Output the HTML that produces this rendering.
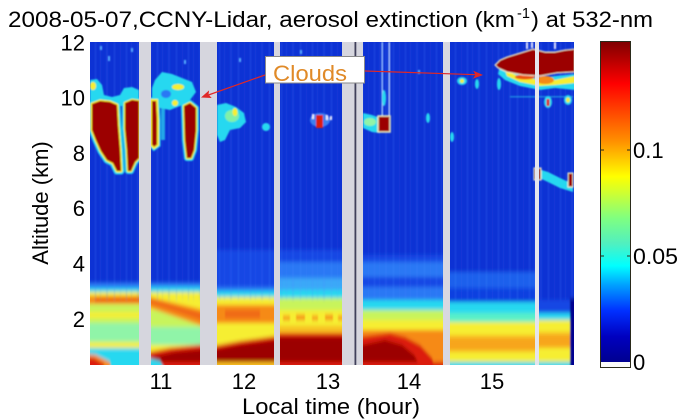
<!DOCTYPE html>
<html><head><meta charset="utf-8"><style>
html,body{margin:0;padding:0;background:#fff;width:700px;height:420px;overflow:hidden}
svg{display:block}
text{font-family:"Liberation Sans",Arial,sans-serif;fill:#000}
</style></head><body>
<svg width="700" height="420" viewBox="0 0 700 420" xmlns="http://www.w3.org/2000/svg">
<defs>
<clipPath id="pc"><rect x="90" y="42" width="484" height="323"/></clipPath>
<filter id="bl" x="-2%" y="-3%" width="104%" height="106%"><feGaussianBlur stdDeviation="0.8 2.2"/></filter>
<filter id="bl2" x="-5%" y="-5%" width="110%" height="110%"><feGaussianBlur stdDeviation="0.7"/></filter>
<pattern id="st" width="31" height="420" patternUnits="userSpaceOnUse">
 <rect x="2" y="0" width="1" height="420" fill="#4a88ff" opacity=".35"/>
 <rect x="7" y="0" width="1" height="420" fill="#4a88ff" opacity=".2"/>
 <rect x="13" y="0" width="2" height="420" fill="#4a88ff" opacity=".22"/>
 <rect x="21" y="0" width="1" height="420" fill="#5a98ff" opacity=".35"/>
 <rect x="27" y="0" width="1" height="420" fill="#4a88ff" opacity=".15"/>
</pattern>
<linearGradient id="cb" x1="0" y1="42" x2="0" y2="362" gradientUnits="userSpaceOnUse">
 <stop offset="0" stop-color="#800000"/>
 <stop offset="0.13" stop-color="#ff0000"/>
 <stop offset="0.25" stop-color="#ff6000"/>
 <stop offset="0.31" stop-color="#ff9000"/>
 <stop offset="0.42" stop-color="#ffff00"/>
 <stop offset="0.47" stop-color="#d0ff30"/>
 <stop offset="0.55" stop-color="#80ff80"/>
 <stop offset="0.63" stop-color="#50f0c0"/>
 <stop offset="0.70" stop-color="#00ffff"/>
 <stop offset="0.76" stop-color="#00a0ff"/>
 <stop offset="0.84" stop-color="#0030ff"/>
 <stop offset="0.92" stop-color="#0000c0"/>
 <stop offset="1" stop-color="#000090"/>
</linearGradient>
</defs>

<!-- Title -->
<text x="8" y="27" font-size="22" textLength="507" lengthAdjust="spacingAndGlyphs">2008-05-07,CCNY-Lidar, aerosol extinction (km</text>
<text x="517" y="18" font-size="15" textLength="13" lengthAdjust="spacingAndGlyphs">-1</text>
<text x="531" y="27" font-size="22" textLength="122" lengthAdjust="spacingAndGlyphs">) at 532-nm</text>

<!-- Data -->
<g clip-path="url(#pc)">
<g filter="url(#bl)">
 <!-- Seg A -->
 <rect x="80" y="30" width="65" height="253" fill="#0b30d4"/>
 <rect x="80" y="283" width="65" height="5" fill="#2a78f4"/>
 <rect x="80" y="288" width="65" height="4" fill="#28d8f0"/>
 <rect x="80" y="292" width="65" height="4" fill="#f6ee30"/>
 <rect x="80" y="296" width="65" height="8" fill="#f68a18"/>
 <rect x="95" y="298" width="50" height="4" fill="#ec5410" opacity=".8"/>
 <rect x="80" y="304" width="65" height="8" fill="#c8f45c"/>
 <rect x="80" y="312" width="65" height="6" fill="#f6ee30"/>
 <rect x="80" y="318" width="65" height="5" fill="#c8f45c"/>
 <rect x="80" y="323" width="65" height="19" fill="#90f4a8"/>
 <rect x="80" y="342" width="65" height="6" fill="#f6ee30"/>
 <rect x="80" y="348" width="65" height="27" fill="#28d8f0"/>
 <path d="M80,353 L96,355 L110,362 L112,375 L80,375 Z" fill="#f68a18"/>
 <path d="M80,356 L94,358 L104,364 L104,375 L80,375 Z" fill="#dc1a08"/>
 <!-- Seg B -->
 <rect x="145" y="30" width="63" height="253" fill="#0b30d4"/>
 <rect x="145" y="283" width="63" height="4" fill="#2a78f4"/>
 <rect x="145" y="287" width="63" height="5" fill="#28d8f0"/>
 <rect x="145" y="292" width="63" height="18" fill="#f6ee30"/>
 <rect x="145" y="310" width="63" height="17" fill="#c8f45c"/>
 <rect x="145" y="327" width="63" height="18" fill="#90f4a8"/>
 <rect x="145" y="345" width="63" height="10" fill="#f6ee30"/>
 <path d="M145,296 L208,311 L208,328 L145,306 Z" fill="#f68a18"/>
 <path d="M150,299 L208,315 L208,322 L150,303 Z" fill="#ec5410" opacity=".7"/>
 <path d="M145,353 L170,348 L208,344 L208,375 L145,375 Z" fill="#dc1a08"/>
 <path d="M152,357 L175,352 L208,349 L208,362 L152,362 Z" fill="#9c0000"/>
 <path d="M145,357 L160,361 L168,375 L145,375 Z" fill="#28d8f0"/>
 <!-- Seg C -->
 <rect x="208" y="30" width="69" height="220" fill="#0b30d4"/>
 <rect x="208" y="250" width="69" height="37" fill="#1446e4"/>
 <rect x="208" y="287" width="69" height="4" fill="#2a78f4"/>
 <rect x="208" y="291" width="69" height="6" fill="#28d8f0"/>
 <rect x="208" y="297" width="69" height="8" fill="#f6ee30"/>
 <rect x="208" y="305" width="69" height="18" fill="#f68a18"/>
 <rect x="225" y="310" width="35" height="8" fill="#ec5410" opacity=".6"/>
 <rect x="208" y="323" width="69" height="27" fill="#f6ee30"/>
 <path d="M208,347 L240,341 L277,336 L277,375 L208,375 Z" fill="#dc1a08"/>
 <path d="M208,351 L240,345 L277,340 L277,362 L208,362 Z" fill="#9c0000"/>
 <rect x="208" y="362" width="69" height="13" fill="#f8c020"/>
 <!-- Seg D -->
 <rect x="277" y="30" width="75" height="220" fill="#0b30d4"/>
 <rect x="277" y="250" width="75" height="12" fill="#1446e4"/>
 <rect x="277" y="262" width="75" height="16" fill="#2a78f4"/>
 <rect x="277" y="278" width="75" height="12" fill="#3aa8f8"/>
 <rect x="277" y="290" width="75" height="8" fill="#28d8f0"/>
 <rect x="277" y="298" width="75" height="12" fill="#c8f45c"/>
 <rect x="277" y="310" width="75" height="16" fill="#f6ee30"/>
 <rect x="283" y="316" width="7" height="4" fill="#f68a18"/>
 <rect x="296" y="315" width="9" height="5" fill="#f68a18"/>
 <rect x="312" y="316" width="6" height="4" fill="#f68a18"/>
 <rect x="325" y="315" width="8" height="5" fill="#f68a18"/>
 <rect x="338" y="316" width="5" height="4" fill="#f68a18"/>
 <rect x="277" y="326" width="75" height="7" fill="#f8c020"/>
 <rect x="277" y="333" width="75" height="4" fill="#dc1a08"/>
 <rect x="277" y="337" width="75" height="25" fill="#9c0000"/>
 <rect x="277" y="362" width="75" height="13" fill="#dc1a08"/>
 <!-- Seg E -->
 <rect x="352" y="30" width="95" height="225" fill="#0b30d4"/>
 <rect x="352" y="255" width="95" height="7" fill="#1446e4"/>
 <rect x="352" y="262" width="95" height="15" fill="#2a78f4"/>
 <rect x="352" y="277" width="95" height="10" fill="#1446e4"/>
 <rect x="352" y="287" width="95" height="13" fill="#2a78f4"/>
 <rect x="352" y="300" width="95" height="10" fill="#28d8f0"/>
 <rect x="352" y="310" width="95" height="10" fill="#c8f45c"/>
 <rect x="352" y="320" width="95" height="10" fill="#f6ee30"/>
 <rect x="352" y="330" width="95" height="45" fill="#f68a18"/>
 <path d="M352,338 L390,333 L405,337 L420,345 L432,358 L438,375 L352,375 Z" fill="#dc1a08"/>
 <path d="M358,346 L385,340 L402,345 L414,355 L418,362 L358,362 Z" fill="#9c0000"/>
 <rect x="352" y="362" width="95" height="13" fill="#dc1a08"/>
 <!-- Seg F -->
 <rect x="447" y="30" width="90" height="242" fill="#0b30d4"/>
 <rect x="447" y="272" width="90" height="16" fill="#1c60ec"/>
 <rect x="447" y="288" width="90" height="14" fill="#1040e0"/>
 <rect x="447" y="302" width="90" height="11" fill="#28d8f0"/>
 <rect x="447" y="313" width="90" height="9" fill="#58f0c8"/>
 <rect x="447" y="322" width="90" height="13" fill="#f6ee30"/>
 <rect x="447" y="335" width="90" height="17" fill="#f8c020"/>
 <rect x="447" y="338" width="90" height="12" fill="#f68a18" opacity=".5"/>
 <rect x="447" y="352" width="90" height="10" fill="#f6ee30"/>
 <rect x="447" y="362" width="90" height="13" fill="#28d8f0"/>
 <!-- Seg G -->
 <rect x="537" y="30" width="48" height="270" fill="#0b30d4"/>
 <rect x="537" y="300" width="48" height="13" fill="#1446e4"/>
 <rect x="537" y="313" width="48" height="7" fill="#28d8f0"/>
 <rect x="537" y="320" width="48" height="12" fill="#f6ee30"/>
 <rect x="537" y="332" width="48" height="16" fill="#f8c020"/>
 <rect x="537" y="335" width="48" height="12" fill="#f68a18" opacity=".5"/>
 <rect x="537" y="348" width="48" height="14" fill="#f6ee30"/>
 <rect x="537" y="362" width="48" height="13" fill="#28d8f0"/>
 <rect x="570" y="298" width="15" height="77" fill="#000090"/>
 <!-- streaks -->
 <rect x="90" y="42" width="484" height="258" fill="url(#st)" opacity=".7"/>
</g>

<g filter="url(#bl2)">
 <!-- specks -->
 <rect x="100" y="46" width="2" height="4" fill="#5ab0ff"/>
 <rect x="108" y="56" width="2" height="5" fill="#5ab0ff"/>
 <rect x="131" y="48" width="2" height="4" fill="#5ab0ff"/>
 <rect x="184" y="60" width="2" height="4" fill="#5ab0ff"/>
 <rect x="239" y="58" width="2" height="4" fill="#5ab0ff"/>
 <rect x="300" y="50" width="2" height="4" fill="#5ab0ff"/>
 <rect x="418" y="70" width="2" height="4" fill="#5ab0ff"/>
 <!-- Seg A clouds -->
 <path d="M90,80 L97,79 L102,85 L104,95 L112,97 L120,95 L124,88 L132,87 L139,90 L139,106 L90,106 Z" fill="#28d8f0"/>
 <ellipse cx="93" cy="86" rx="3" ry="4" fill="#f6ee30"/>
 <path d="M92,104 L100,101 L110,102 L117,105 L118,125 L120,150 L121,171 L117,171 L113,163 L107,160 L101,151 L96,140 L92,130 Z" fill="#9c0000" stroke="#28d8f0" stroke-width="7" stroke-linejoin="round"/>
 <path d="M92,104 L100,101 L110,102 L117,105 L118,125 L120,150 L121,171 L117,171 L113,163 L107,160 L101,151 L96,140 L92,130 Z" fill="#9c0000" stroke="#f6ee30" stroke-width="3" stroke-linejoin="round"/>
 <path d="M92,104 L100,101 L110,102 L117,105 L118,125 L120,150 L121,171 L117,171 L113,163 L107,160 L101,151 L96,140 L92,130 Z" fill="#9c0000"/>
 <path d="M125,103 L132,100 L139,101 L139,158 L135,162 L131,171 L128,171 L127,150 L125,128 Z" fill="#9c0000" stroke="#28d8f0" stroke-width="6" stroke-linejoin="round"/>
 <path d="M125,103 L132,100 L139,101 L139,158 L135,162 L131,171 L128,171 L127,150 L125,128 Z" fill="#9c0000" stroke="#f6ee30" stroke-width="2.5" stroke-linejoin="round"/>
 <path d="M125,103 L132,100 L139,101 L139,158 L135,162 L131,171 L128,171 L127,150 L125,128 Z" fill="#9c0000"/>
 <!-- Seg B clouds -->
 <path d="M155,80 L162,72 L172,74 L182,78 L192,82 L196,92 L190,100 L180,106 L170,110 L160,108 L152,100 L152,88 Z" fill="#28d8f0"/>
 <ellipse cx="166" cy="94" rx="5" ry="4" fill="#2a78f4"/>
 <ellipse cx="178" cy="87" rx="6" ry="3" fill="#f6ee30"/>
 <circle cx="175" cy="103" r="3" fill="#f6ee30"/>
 <rect x="161" y="108" width="4" height="32" fill="#28d8f0" opacity=".7"/>
 <path d="M151,100 L157,100 L158,120 L158,145 L154,148 L151,145 Z" fill="#9c0000" stroke="#28d8f0" stroke-width="5"/>
 <path d="M151,100 L157,100 L158,120 L158,145 L154,148 L151,145 Z" fill="#9c0000" stroke="#f6ee30" stroke-width="2"/>
 <path d="M184,106 L190,103 L196,108 L196,130 L194,150 L191,158 L187,158 L185,140 Z" fill="#9c0000" stroke="#28d8f0" stroke-width="6" stroke-linejoin="round"/>
 <path d="M184,106 L190,103 L196,108 L196,130 L194,150 L191,158 L187,158 L185,140 Z" fill="#9c0000" stroke="#f6ee30" stroke-width="2.5" stroke-linejoin="round"/>
 <path d="M184,106 L190,103 L196,108 L196,130 L194,150 L191,158 L187,158 L185,140 Z" fill="#9c0000"/>
 <!-- Seg C -->
 <path d="M217,105 L226,103 L236,107 L244,113 L246,122 L240,128 L230,130 L225,140 L220,142 L217,135 Z" fill="#28d8f0"/>
 <ellipse cx="232" cy="116" rx="7" ry="6" fill="#80f0a8"/>
 <ellipse cx="235" cy="112" rx="2.5" ry="4" fill="#f6ee30"/>
 <ellipse cx="266" cy="127" rx="4" ry="4" fill="#28d8f0"/>
 <!-- Seg D -->
 <ellipse cx="320" cy="120" rx="10" ry="7" fill="#3a80f0"/>
 <rect x="316" y="115" width="7" height="13" fill="#dc1a08"/>
 <rect x="312" y="114" width="2" height="5" fill="#f0f0ff"/>
 <rect x="326" y="115" width="2" height="5" fill="#f0f0ff"/>
 <rect x="330" y="116" width="2" height="4" fill="#f0f0ff"/>
 <!-- Seg E -->
 <rect x="381.5" y="42" width="1.5" height="84" fill="#a0c8ff"/>
 <rect x="388.5" y="42" width="1.5" height="84" fill="#c0d8ff"/>
 <ellipse cx="384" cy="98" rx="2" ry="8" fill="#28d8f0"/>
 <path d="M363,113 L372,115 L380,118 L380,133 L372,132 L363,128 Z" fill="#28d8f0"/>
 <ellipse cx="370" cy="122" rx="6" ry="4" fill="#90f4a8"/>
 <rect x="378" y="116" width="12" height="16" fill="#9c0000" stroke="#f0f0c0" stroke-width="1.5"/>
 <ellipse cx="428" cy="118" rx="2" ry="5" fill="#28d8f0"/>
 <!-- Seg F/G upper cloud -->
 <path d="M500,66 L510,72 L525,76 L540,78 L555,76 L575,74 L575,90 L555,88 L540,90 L520,86 L505,80 L498,74 Z" fill="#28d8f0"/>
 <path d="M505,70 L520,77 L540,80 L555,80 L575,76 L575,83 L555,85 L540,86 L520,82 L507,76 Z" fill="#f6ee30"/>
 <ellipse cx="545" cy="80" rx="9" ry="4" fill="#f68a18"/>
 <ellipse cx="525" cy="77" rx="10" ry="2.5" fill="#ec5410"/>
 <path d="M495,65 L500,60 L507,57 L520,53 L533,49 L545,52 L555,52 L565,50 L575,49 L575,72 L557,73 L540,76 L523,75 L507,72 L498,68 Z" fill="#9c0000" stroke="#f8f0d0" stroke-width="1"/>
 <rect x="526" y="42" width="2" height="7" fill="#e8e8ff"/>
 <rect x="531" y="42" width="2" height="6" fill="#e8e8ff"/>
 <rect x="554" y="42" width="2" height="7" fill="#e8e8ff"/>
 <ellipse cx="462" cy="81" rx="5" ry="4" fill="#28d8f0"/>
 <ellipse cx="462" cy="81" rx="2" ry="2" fill="#f6ee30"/>
 <ellipse cx="477" cy="84" rx="2" ry="5" fill="#28d8f0"/>
 <ellipse cx="499" cy="84" rx="2" ry="6" fill="#28d8f0"/>
 <rect x="510" y="96" width="63" height="1.5" fill="#28d8f0" opacity=".5"/>
 <ellipse cx="548" cy="102" rx="4" ry="6" fill="#28d8f0"/>
 <rect x="546.5" y="99" width="3" height="7" fill="#dc1a08"/>
 <ellipse cx="568" cy="100" rx="4" ry="5" fill="#28d8f0"/>
 <ellipse cx="568" cy="100" rx="2" ry="2.5" fill="#f6ee30"/>
 <!-- lower streak -->
 <path d="M535,168 L548,172 L560,178 L573,184 L573,192 L560,188 L548,182 L535,176 Z" fill="#28d8f0"/>
 <rect x="534" y="168" width="7" height="12" fill="#9c0000" stroke="#f0f0d0" stroke-width="1"/>
 <rect x="568" y="173" width="5" height="14" fill="#9c0000" stroke="#f0f0d0" stroke-width="1"/>
 <ellipse cx="452" cy="137" rx="2" ry="5" fill="#28d8f0"/>
</g>

<!-- gaps -->
<rect x="139" y="42" width="12" height="323" fill="#d6d6de"/>
<rect x="200" y="42" width="17" height="323" fill="#d6d6de"/>
<rect x="274" y="42" width="6" height="323" fill="#d6d6de"/>
<rect x="342" y="42" width="21" height="323" fill="#d6d6de"/>
<rect x="354.5" y="42" width="1.8" height="323" fill="#40405a"/>
<rect x="443" y="42" width="7" height="323" fill="#d8d8e0"/>
<rect x="535" y="42" width="4" height="323" fill="#e4e4ec"/>
</g>

<!-- annotation -->
<line x1="265" y1="75" x2="207" y2="95.5" stroke="#e02828" stroke-width="1.2"/>
<polygon points="201,97.5 211.7,98 208.5,94.5 209.1,90.4" fill="#e02828"/>
<line x1="365" y1="71" x2="476" y2="74.7" stroke="#e02828" stroke-width="1.2"/>
<polygon points="483,75 472.9,78.8 475.5,74.8 473.1,70.6" fill="#e02828"/>
<rect x="265.5" y="56.5" width="99" height="26.5" fill="#fff" stroke="#8a8a8a" stroke-width="1"/>
<text x="273" y="81" font-size="22" textLength="74" lengthAdjust="spacingAndGlyphs" style="fill:#e08a28">Clouds</text>

<!-- y ticks -->
<g font-size="22" text-anchor="end">
<text x="85" y="50.5">12</text>
<text x="85" y="105.5">10</text>
<text x="85" y="161">8</text>
<text x="85" y="216">6</text>
<text x="85" y="271.5">4</text>
<text x="85" y="327">2</text>
</g>
<!-- x ticks -->
<g font-size="22" text-anchor="middle">
<text x="161" y="389">11</text>
<text x="244" y="389">12</text>
<text x="328" y="389">13</text>
<text x="409" y="389">14</text>
<text x="492" y="389">15</text>
</g>
<text x="331" y="414" font-size="22" text-anchor="middle" textLength="178" lengthAdjust="spacingAndGlyphs">Local time (hour)</text>
<text transform="translate(48,203) rotate(-90)" font-size="22" text-anchor="middle">Altitude (km)</text>

<!-- colorbar -->
<rect x="601" y="42" width="29" height="320" fill="url(#cb)"/>
<rect x="601" y="362" width="29" height="5" fill="#fafafa"/>
<rect x="600.5" y="41.5" width="30" height="326" fill="none" stroke="#2a2a1a" stroke-width="1"/>
<g stroke="#2a2a1a" stroke-width="1">
<line x1="601" y1="150" x2="604" y2="150"/><line x1="627" y1="150" x2="630" y2="150"/>
<line x1="601" y1="256" x2="604" y2="256"/><line x1="627" y1="256" x2="630" y2="256"/>
</g>
<g font-size="22">
<text x="633" y="158">0.1</text>
<text x="633" y="264" textLength="45" lengthAdjust="spacingAndGlyphs">0.05</text>
<text x="633" y="370">0</text>
</g>
</svg>
</body></html>
